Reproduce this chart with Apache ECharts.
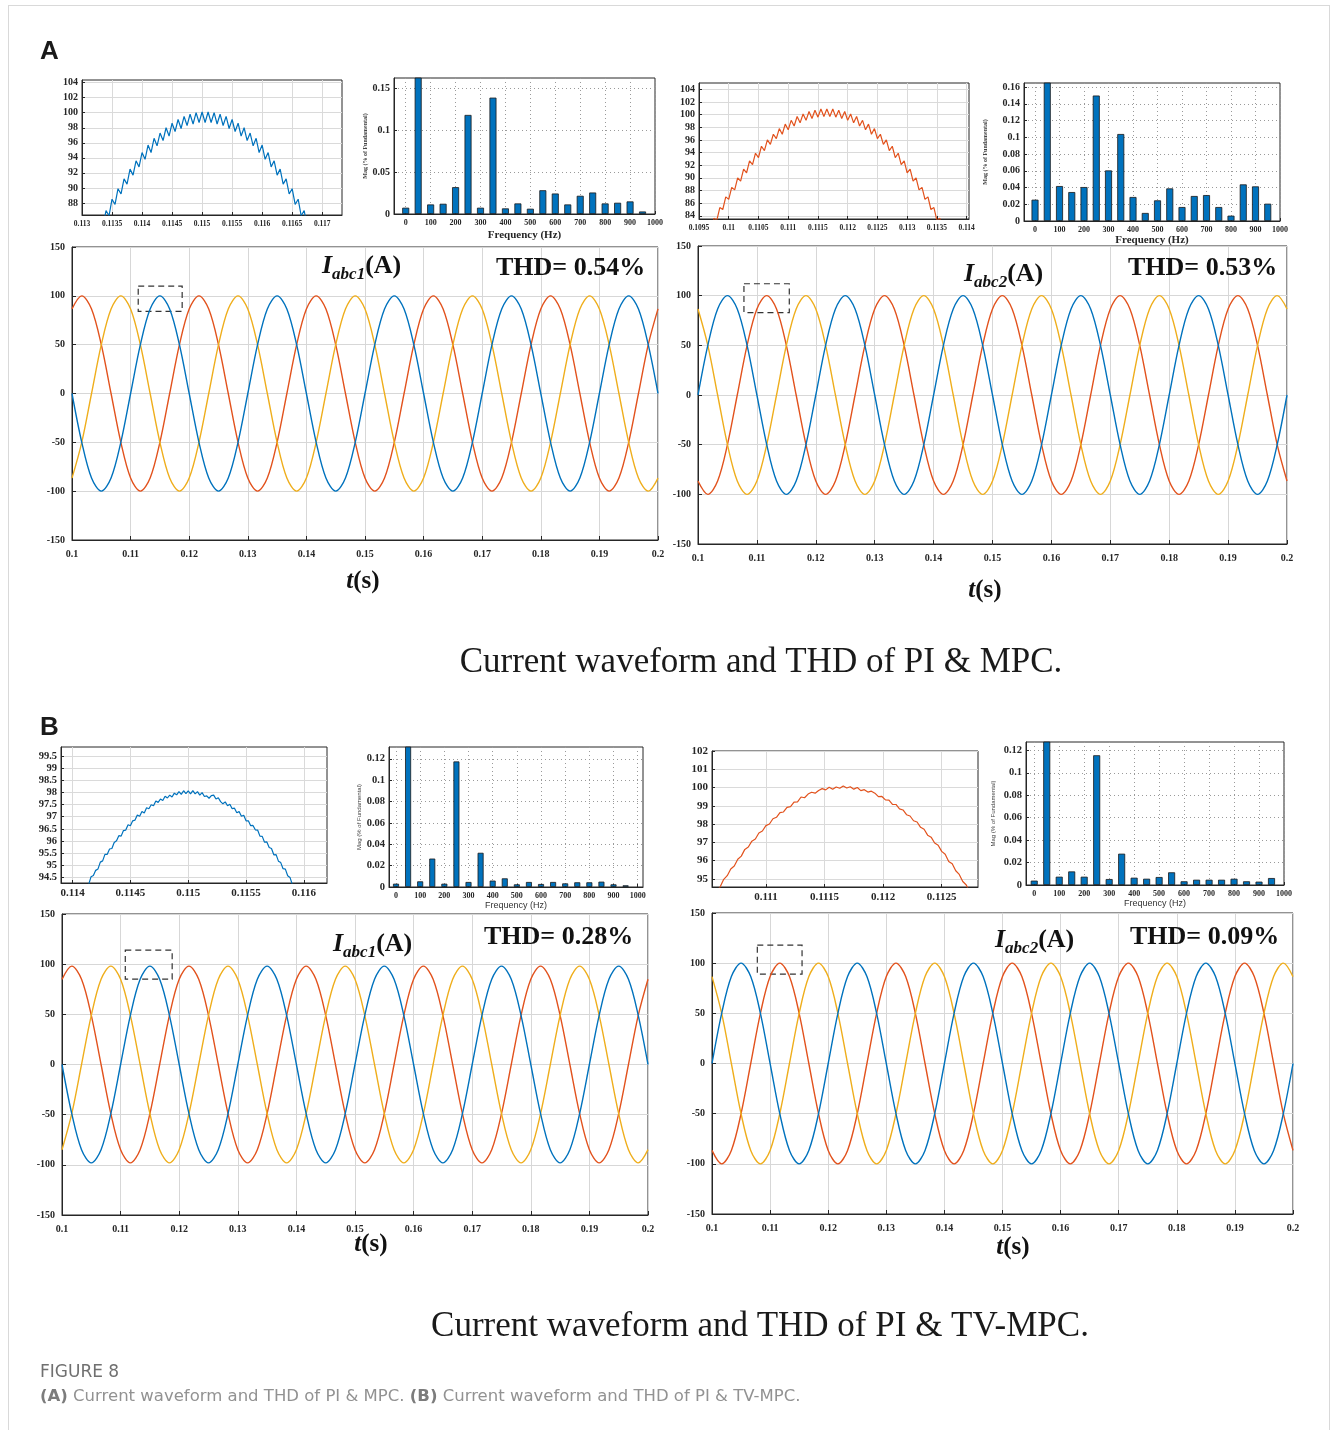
<!DOCTYPE html>
<html><head><meta charset="utf-8">
<script src="https://cdn.jsdelivr.net/npm/echarts@6/dist/echarts.min.js"></script>
<style>
html,body{margin:0;padding:0;background:#fff;}
#frame{position:absolute;left:8px;top:5px;width:1322px;height:1430px;border:1px solid #d9d9d9;border-bottom:none;box-sizing:border-box;}
#chart{position:absolute;left:0;top:0;width:1331px;height:1430px;}
</style></head><body>
<div id="frame"></div>
<div id="chart"></div>
<script>
// ---------------- DATA ----------------
// Main three-phase waveforms, read every 1/600 s from 0.1 s to 0.2 s
const mainT0 = 0.1, mainDt = 1 / 600;
const a1Blue = [0,-50,-86.6,-100,-86.6,-50,0,50,86.6,100,86.6,50, 0,-50,-86.6,-100,-86.6,-50,0,50,86.6,100,86.6,50, 0,-50,-86.6,-100,-86.6,-50,0,50,86.6,100,86.6,50, 0,-50,-86.6,-100,-86.6,-50,0,50,86.6,100,86.6,50, 0,-50,-86.6,-100,-86.6,-50,0,50,86.6,100,86.6,50, 0];
const a1Red = [86.6,100,86.6,50,0,-50,-86.6,-100,-86.6,-50,0,50, 86.6,100,86.6,50,0,-50,-86.6,-100,-86.6,-50,0,50, 86.6,100,86.6,50,0,-50,-86.6,-100,-86.6,-50,0,50, 86.6,100,86.6,50,0,-50,-86.6,-100,-86.6,-50,0,50, 86.6,100,86.6,50,0,-50,-86.6,-100,-86.6,-50,0,50, 86.6];
const a1Orange = [-86.6,-50,0,50,86.6,100,86.6,50,0,-50,-86.6,-100, -86.6,-50,0,50,86.6,100,86.6,50,0,-50,-86.6,-100, -86.6,-50,0,50,86.6,100,86.6,50,0,-50,-86.6,-100, -86.6,-50,0,50,86.6,100,86.6,50,0,-50,-86.6,-100, -86.6,-50,0,50,86.6,100,86.6,50,0,-50,-86.6,-100, -86.6];
const a2Blue = [0,50,86.6,100,86.6,50,0,-50,-86.6,-100,-86.6,-50, 0,50,86.6,100,86.6,50,0,-50,-86.6,-100,-86.6,-50, 0,50,86.6,100,86.6,50,0,-50,-86.6,-100,-86.6,-50, 0,50,86.6,100,86.6,50,0,-50,-86.6,-100,-86.6,-50, 0,50,86.6,100,86.6,50,0,-50,-86.6,-100,-86.6,-50, 0];
const a2Red = [-86.6,-100,-86.6,-50,0,50,86.6,100,86.6,50,0,-50, -86.6,-100,-86.6,-50,0,50,86.6,100,86.6,50,0,-50, -86.6,-100,-86.6,-50,0,50,86.6,100,86.6,50,0,-50, -86.6,-100,-86.6,-50,0,50,86.6,100,86.6,50,0,-50, -86.6,-100,-86.6,-50,0,50,86.6,100,86.6,50,0,-50, -86.6];
const a2Orange = [86.6,50,0,-50,-86.6,-100,-86.6,-50,0,50,86.6,100, 86.6,50,0,-50,-86.6,-100,-86.6,-50,0,50,86.6,100, 86.6,50,0,-50,-86.6,-100,-86.6,-50,0,50,86.6,100, 86.6,50,0,-50,-86.6,-100,-86.6,-50,0,50,86.6,100, 86.6,50,0,-50,-86.6,-100,-86.6,-50,0,50,86.6,100, 86.6];
const b1Blue = [0,-49,-84.9,-98,-84.9,-49,0,49,84.9,98,84.9,49, 0,-49,-84.9,-98,-84.9,-49,0,49,84.9,98,84.9,49, 0,-49,-84.9,-98,-84.9,-49,0,49,84.9,98,84.9,49, 0,-49,-84.9,-98,-84.9,-49,0,49,84.9,98,84.9,49, 0,-49,-84.9,-98,-84.9,-49,0,49,84.9,98,84.9,49, 0];
const b1Red = [84.9,98,84.9,49,0,-49,-84.9,-98,-84.9,-49,0,49, 84.9,98,84.9,49,0,-49,-84.9,-98,-84.9,-49,0,49, 84.9,98,84.9,49,0,-49,-84.9,-98,-84.9,-49,0,49, 84.9,98,84.9,49,0,-49,-84.9,-98,-84.9,-49,0,49, 84.9,98,84.9,49,0,-49,-84.9,-98,-84.9,-49,0,49, 84.9];
const b1Orange = [-84.9,-49,0,49,84.9,98,84.9,49,0,-49,-84.9,-98, -84.9,-49,0,49,84.9,98,84.9,49,0,-49,-84.9,-98, -84.9,-49,0,49,84.9,98,84.9,49,0,-49,-84.9,-98, -84.9,-49,0,49,84.9,98,84.9,49,0,-49,-84.9,-98, -84.9,-49,0,49,84.9,98,84.9,49,0,-49,-84.9,-98, -84.9];
const b2Blue = [0,50,86.6,100,86.6,50,0,-50,-86.6,-100,-86.6,-50, 0,50,86.6,100,86.6,50,0,-50,-86.6,-100,-86.6,-50, 0,50,86.6,100,86.6,50,0,-50,-86.6,-100,-86.6,-50, 0,50,86.6,100,86.6,50,0,-50,-86.6,-100,-86.6,-50, 0,50,86.6,100,86.6,50,0,-50,-86.6,-100,-86.6,-50, 0];
const b2Red = [-86.6,-100,-86.6,-50,0,50,86.6,100,86.6,50,0,-50, -86.6,-100,-86.6,-50,0,50,86.6,100,86.6,50,0,-50, -86.6,-100,-86.6,-50,0,50,86.6,100,86.6,50,0,-50, -86.6,-100,-86.6,-50,0,50,86.6,100,86.6,50,0,-50, -86.6,-100,-86.6,-50,0,50,86.6,100,86.6,50,0,-50, -86.6];
const b2Orange = [86.6,50,0,-50,-86.6,-100,-86.6,-50,0,50,86.6,100, 86.6,50,0,-50,-86.6,-100,-86.6,-50,0,50,86.6,100, 86.6,50,0,-50,-86.6,-100,-86.6,-50,0,50,86.6,100, 86.6,50,0,-50,-86.6,-100,-86.6,-50,0,50,86.6,100, 86.6,50,0,-50,-86.6,-100,-86.6,-50,0,50,86.6,100, 86.6];

// Zoomed peaks (insets)
const zA1T0 = 0.11335, zA1Dt = 0.00005;
const zA1 = [84.8,87.0,86.3,88.5,87.8,89.9,89.2,91.2,90.5,92.5,91.7,93.6,92.8,94.7,93.8,95.7,94.7,96.6,95.6,97.3,96.3,98.0,96.9,98.6,97.5,99.1,97.9,99.5,98.3,99.8,98.5,100.0,98.7,100.1,98.7,100.1,98.7,100.0,98.5,99.8,98.3,99.5,97.9,99.1,97.5,98.6,96.9,98.0,96.3,97.3,95.6,96.6,94.7,95.7,93.8,94.7,92.8,93.6,91.7,92.5,90.5,91.2,89.2,89.9,87.8,88.5,86.3,87.0,84.8];
const zA2T0 = 0.10970, zA2Dt = 0.00005;
const zA2 = [81.5,83.6,83.3,85.3,85.0,87.0,86.6,88.5,88.1,90.0,89.5,91.4,90.8,92.7,92.1,93.9,93.2,95.0,94.3,96.0,95.3,96.9,96.2,97.8,96.9,98.5,97.6,99.1,98.2,99.7,98.7,100.1,99.1,100.5,99.4,100.7,99.6,100.9,99.7,100.9,99.7,100.9,99.6,100.7,99.4,100.5,99.1,100.1,98.7,99.7,98.2,99.1,97.6,98.5,96.9,97.8,96.2,96.9,95.3,96.0,94.3,95.0,93.2,93.9,92.1,92.7,90.8,91.4,89.5,90.0,88.1,88.5,86.6,87.0,85.0,85.3,83.3,83.6,81.5];
const zB1T0 = 0.11412, zB1Dt = 0.00002;
const zB1 = [94.16,94.22,94.53,94.58,94.79,94.85,95.13,95.18,95.45,95.45,95.67,95.69,95.94,96.01,96.22,96.20,96.43,96.45,96.67,96.63,96.83,96.86,97.07,97.02,97.21,97.15,97.37,97.33,97.49,97.45,97.65,97.59,97.73,97.67,97.84,97.77,97.89,97.81,97.97,97.90,98.03,97.92,98.07,97.95,98.06,97.94,98.07,97.94,98.03,97.89,97.99,97.83,97.86,97.76,97.87,97.89,97.73,97.78,97.62,97.53,97.61,97.45,97.51,97.33,97.35,97.16,97.21,97.02,97.06,96.83,96.83,96.63,96.64,96.46,96.45,96.20,96.19,95.95,95.96,95.73,95.69,95.43,95.44,95.17,95.11,94.86,94.84,94.57,94.50,94.21,94.14];
const zB2T0 = 0.11058, zB2Dt = 0.00003;
const zB2 = [94.34,94.56,94.97,95.17,95.54,95.70,96.07,96.24,96.61,96.74,97.06,97.18,97.51,97.62,97.91,98.00,98.29,98.37,98.62,98.66,98.91,98.95,99.20,99.21,99.48,99.44,99.64,99.74,99.69,99.84,99.94,99.87,100.01,99.90,100.03,99.96,100.08,99.97,100.04,99.91,100.00,99.83,99.88,99.75,99.80,99.69,99.50,99.51,99.32,99.31,99.08,99.07,98.83,98.77,98.51,98.44,98.18,98.11,97.82,97.71,97.39,97.28,96.96,96.84,96.50,96.34,95.95,95.82,95.44,95.24,94.85,94.66,94.26];

// FFT spectra (Mag, % of fundamental); the 50 Hz bar is the fundamental (off scale)
const freqs = [0,50,100,150,200,250,300,350,400,450,500,550,600,650,700,750,800,850,900,950];
const fftA1 = [0.0075,100,0.0114,0.0122,0.032,0.118,0.0075,0.1386,0.0067,0.0126,0.0063,0.0283,0.0244,0.0114,0.0217,0.0256,0.0126,0.0134,0.015,0.003];
const fftA2 = [0.0255,100,0.0418,0.0346,0.0406,0.150,0.0605,0.104,0.0287,0.0096,0.0247,0.039,0.0167,0.0299,0.031,0.0167,0.0064,0.0438,0.0414,0.0207];
const fftB1 = [0.0031,100,0.0053,0.0266,0.0031,0.1175,0.0047,0.032,0.006,0.0081,0.0025,0.0047,0.0028,0.0047,0.0034,0.0044,0.0044,0.005,0.0025,0.0016];
const fftB2 = [0.0039,100,0.0074,0.0121,0.0074,0.1156,0.0053,0.0279,0.0065,0.0056,0.0071,0.0113,0.0033,0.0047,0.0047,0.0047,0.0056,0.0033,0.003,0.0062];

// Tick labels
const mainXTicks = [0.1,0.11,0.12,0.13,0.14,0.15,0.16,0.17,0.18,0.19,0.2];
const freqTicks = [0,100,200,300,400,500,600,700,800,900,1000];
const zA1XTicks = [0.113,0.1135,0.114,0.1145,0.115,0.1155,0.116,0.1165,0.117];
const zA1YTicks = [88,90,92,94,96,98,100,102,104];
const zA2XTicks = [0.1095,0.11,0.1105,0.111,0.1115,0.112,0.1125,0.113,0.1135,0.114];
const zA2YTicks = [84,86,88,90,92,94,96,98,100,102,104];
const zB1XTicks = [0.114,0.1145,0.115,0.1155,0.116];
const zB1YTicks = [94.5,95,95.5,96,96.5,97,97.5,98,98.5,99,99.5];
const zB2XTicks = [0.111,0.1115,0.112,0.1125];
const zB2YTicks = [95,96,97,98,99,100,101,102];
const fA1YTicks = [0,0.05,0.1,0.15];
const fA2YTicks = [0,0.02,0.04,0.06,0.08,0.1,0.12,0.14,0.16];
const fB1YTicks = [0,0.02,0.04,0.06,0.08,0.1,0.12];
const fB2YTicks = [0,0.02,0.04,0.06,0.08,0.1,0.12];

// Dashed zoom-window annotations (data units)
const boxA1 = [[0.1113, 110], [0.1188, 84]];
const boxA2 = [[0.1078, 112], [0.1155, 83]];
const boxB1 = [[0.1108, 114], [0.1188, 85]];
const boxB2 = [[0.1078, 118], [0.1155, 89]];

// ---------------- CHART ----------------
const SERIF = "'Liberation Serif','Times New Roman',serif";
const SANS = "'Liberation Sans',Arial,sans-serif";
const DARK = '#262626';
const BLUE = '#0072BD', RED = '#E2521D', ORANGE = '#EFAE1C';
const fmt = v => String(+(+v).toFixed(5));

function pairs(t0, dt, vals) { return vals.map((v, i) => [+(t0 + i * dt).toFixed(7), v]); }
function bars(vals) { return freqs.map((f, i) => [f, vals[i]]); }

const grids = [], xAxes = [], yAxes = [], series = [];
function addGrid(g) { grids.push(Object.assign({show: true, borderColor: DARK, borderWidth: 1, backgroundColor: 'rgba(0,0,0,0)'}, g)); return grids.length - 1; }
const lbl = (fs, extra) => Object.assign({fontFamily: SERIF, fontWeight: 'bold', fontSize: fs, color: DARK}, extra || {});

function mainPanel(g, d, box) {
  const gi = addGrid(g);
  xAxes.push({gridIndex: gi, type: 'value', min: 0.1, max: 0.2,
    axisLine: {onZero: false, lineStyle: {color: DARK}}, axisTick: {inside: true, length: 4, customValues: mainXTicks, lineStyle: {color: DARK}},
    axisLabel: lbl(10, {customValues: mainXTicks, formatter: fmt, margin: 9}),
    splitLine: {show: true, lineStyle: {color: '#d7d7d7', width: 1}}});
  yAxes.push({gridIndex: gi, type: 'value', min: -150, max: 150, interval: 50,
    axisLine: {show: true, onZero: false, lineStyle: {color: DARK}}, axisTick: {show: true, inside: true, length: 4, lineStyle: {color: DARK}},
    axisLabel: lbl(10, {margin: 7}),
    splitLine: {show: true, lineStyle: {color: '#d7d7d7', width: 1}}});
  const cols = [RED, ORANGE, BLUE];
  d.forEach((vals, k) => {
    const s = {type: 'line', xAxisIndex: gi, yAxisIndex: gi, data: pairs(mainT0, mainDt, vals), showSymbol: false, smooth: 0.33,
      lineStyle: {color: cols[k], width: 1.4}, itemStyle: {color: cols[k]}, silent: true, animation: false, z: 3};
    if (k === 2) {
      s.markArea = {silent: true, itemStyle: {color: 'rgba(0,0,0,0)', borderColor: '#333', borderWidth: 1.2, borderType: [6, 4]},
        data: [[{coord: box[0]}, {coord: box[1]}]]};
    }
    series.push(s);
  });
}

function zoomPanel(g, xr, xt, yr, yt, fx, fy, t0, dt, vals, color) {
  const gi = addGrid(g);
  xAxes.push({gridIndex: gi, type: 'value', min: xr[0], max: xr[1],
    axisLine: {onZero: false, lineStyle: {color: DARK}}, axisTick: {inside: true, length: 3, customValues: xt, lineStyle: {color: DARK}},
    axisLabel: lbl(fx, {customValues: xt, formatter: fmt, margin: 5}),
    splitLine: {show: true, lineStyle: {color: '#dadada'}}});
  yAxes.push({gridIndex: gi, type: 'value', min: yr[0], max: yr[1],
    axisLine: {show: true, onZero: false, lineStyle: {color: DARK}}, axisTick: {show: true, inside: true, length: 3, customValues: yt, lineStyle: {color: DARK}},
    axisLabel: lbl(fy, {customValues: yt, formatter: fmt, margin: 4}),
    splitLine: {show: true, lineStyle: {color: '#dadada'}}});
  series.push({type: 'line', xAxisIndex: gi, yAxisIndex: gi, data: pairs(t0, dt, vals), showSymbol: false,
    lineStyle: {color: color, width: 1.2}, silent: true, animation: false, clip: true});
}

function barPanel(g, xr, yr, yt, vals, o) {
  const gi = addGrid(g);
  xAxes.push({gridIndex: gi, type: 'value', min: xr[0], max: xr[1],
    name: 'Frequency (Hz)', nameLocation: 'middle', nameGap: o.xGap,
    nameTextStyle: o.sansName ? {fontFamily: SANS, fontSize: 9, color: '#333'} : {fontFamily: SERIF, fontWeight: 'bold', fontSize: 11, color: DARK},
    axisLine: {onZero: false, lineStyle: {color: DARK}}, axisTick: {inside: true, length: 3, customValues: freqTicks, lineStyle: {color: DARK}},
    axisLabel: lbl(8, {customValues: freqTicks, formatter: v => String(Math.round(v)), margin: 5}),
    splitLine: {show: true, lineStyle: {color: '#9a9a9a', type: [1, 3], width: 1}}});
  yAxes.push({gridIndex: gi, type: 'value', min: yr[0], max: yr[1],
    name: 'Mag (% of Fundamental)', nameLocation: 'middle', nameGap: o.yGap,
    nameTextStyle: o.sansName ? {fontFamily: SANS, fontSize: 6, color: '#444'} : {fontFamily: SERIF, fontWeight: 'bold', fontSize: 6, color: '#444'},
    axisLine: {show: true, onZero: false, lineStyle: {color: DARK}}, axisTick: {show: true, inside: true, length: 3, customValues: yt, lineStyle: {color: DARK}},
    axisLabel: lbl(o.yFs, {customValues: yt, formatter: fmt, margin: 4}),
    splitLine: {show: true, lineStyle: {color: '#9a9a9a', type: [1, 3], width: 1}}});
  series.push({type: 'bar', xAxisIndex: gi, yAxisIndex: gi, data: bars(vals), barWidth: o.bw, clip: true,
    itemStyle: {color: BLUE, borderColor: '#1b1b1b', borderWidth: 0.8}, silent: true, animation: false});
}

// Panel A (PI & MPC)
zoomPanel({left: 82, top: 80, width: 260, height: 135}, [0.113, 0.11733], zA1XTicks, [86.4, 104.35], zA1YTicks, 7.5, 10, zA1T0, zA1Dt, zA1, BLUE);
barPanel({left: 394, top: 78, width: 261, height: 136}, [-47, 1000], [0, 0.162], fA1YTicks, fftA1, {xGap: 16, yGap: 22, bw: 7, yFs: 10});
zoomPanel({left: 699, top: 83, width: 270, height: 136}, [0.1095, 0.11404], zA2XTicks, [83.5, 105], zA2YTicks, 7.5, 10, zA2T0, zA2Dt, zA2, RED);
barPanel({left: 1024, top: 83, width: 256, height: 138}, [-45, 1000], [0, 0.165], fA2YTicks, fftA2, {xGap: 11, yGap: 36, bw: 7, yFs: 10});
mainPanel({left: 72, top: 247, width: 586, height: 293}, [a1Red, a1Orange, a1Blue], boxA1);
mainPanel({left: 698, top: 246, width: 589, height: 298}, [a2Red, a2Orange, a2Blue], boxA2);
// Panel B (PI & TV-MPC)
zoomPanel({left: 61, top: 747, width: 266, height: 136}, [0.1139, 0.1162], zB1XTicks, [94.27, 99.87], zB1YTicks, 11, 10.5, zB1T0, zB1Dt, zB1, BLUE);
barPanel({left: 389, top: 747, width: 254, height: 140}, [-29, 1022], [0, 0.131], fB1YTicks, fftB1, {xGap: 13, yGap: 26, bw: 6, yFs: 10.5, sansName: true});
zoomPanel({left: 712, top: 751, width: 266, height: 136}, [0.11054, 0.11281], zB2XTicks, [94.55, 102], zB2YTicks, 11, 11, zB2T0, zB2Dt, zB2, RED);
barPanel({left: 1026, top: 742, width: 258, height: 143}, [-33, 1000], [0, 0.1274], fB2YTicks, fftB2, {xGap: 13, yGap: 30, bw: 7, yFs: 10.5, sansName: true});
mainPanel({left: 62, top: 914, width: 586, height: 301}, [b1Red, b1Orange, b1Blue], boxB1);
mainPanel({left: 712, top: 913, width: 581, height: 301}, [b2Red, b2Orange, b2Blue], boxB2);

// ---------------- TEXT ----------------
function iLabel(x, y, sub) {
  return {type: 'text', x: x, y: y, z: 10, style: {
    text: '{i|I}{s|' + sub + '}{p|(A)}', fill: '#111', verticalAlign: 'middle',
    rich: {
      i: {fontFamily: SERIF, fontSize: 26, fontWeight: 'bold', fontStyle: 'italic', lineHeight: 34, verticalAlign: 'middle', fill: '#111'},
      s: {fontFamily: SERIF, fontSize: 17, fontWeight: 'bold', fontStyle: 'italic', lineHeight: 17, verticalAlign: 'bottom', fill: '#111'},
      p: {fontFamily: SERIF, fontSize: 26, fontWeight: 'bold', lineHeight: 34, verticalAlign: 'middle', fill: '#111'}
    }}};
}
function tLabel(x, y) {
  return {type: 'text', x: x, y: y, z: 10, style: {
    text: '{i|t}{p|(s)}', fill: '#111', align: 'center', verticalAlign: 'middle',
    rich: {
      i: {fontFamily: SERIF, fontSize: 25, fontWeight: 'bold', fontStyle: 'italic', fill: '#111'},
      p: {fontFamily: SERIF, fontSize: 25, fontWeight: 'bold', fill: '#111'}
    }}};
}
function plain(x, y, text, font, fill, align) {
  return {type: 'text', x: x, y: y, z: 10, style: {text: text, font: font, fill: fill || '#111', align: align || 'left', verticalAlign: 'middle'}};
}
const thdFont = "bold 26px 'Liberation Serif'";
const titleFont = "35px 'Liberation Serif'";
const graphic = [
  plain(40, 52, 'A', "bold 26px 'Liberation Sans'", '#1a1a1a'),
  plain(40, 728, 'B', "bold 26px 'Liberation Sans'", '#1a1a1a'),
  iLabel(322, 266, 'abc1'),
  plain(496, 268, 'THD= 0.54%', thdFont),
  tLabel(363, 582),
  iLabel(964, 274, 'abc2'),
  plain(1128, 268, 'THD= 0.53%', thdFont),
  tLabel(985, 591),
  iLabel(333, 944, 'abc1'),
  plain(484, 937, 'THD= 0.28%', thdFont),
  tLabel(371, 1245),
  iLabel(995, 940, 'abc2'),
  plain(1130, 937, 'THD= 0.09%', thdFont),
  tLabel(1013, 1248),
  plain(761, 663, 'Current waveform and THD of PI & MPC.', titleFont, '#1a1a1a', 'center'),
  plain(760, 1327, 'Current waveform and THD of PI & TV-MPC.', titleFont, '#1a1a1a', 'center'),
  plain(40, 1373, 'FIGURE 8', "17px 'DejaVu Sans'", '#707070'),
  {type: 'text', x: 40, y: 1397, z: 10, style: {
    text: '{b|(A)} Current waveform and THD of PI & MPC. {b|(B)} Current waveform and THD of PI & TV-MPC.',
    font: "16.5px 'DejaVu Sans'", fill: '#929292', verticalAlign: 'middle',
    rich: {b: {fontFamily: 'DejaVu Sans', fontWeight: 'bold', fontSize: 16.5, fill: '#7c7c7c'}}}}
];

const chart = echarts.init(document.getElementById('chart'), null, {renderer: 'canvas'});
chart.setOption({
  animation: false,
  backgroundColor: 'rgba(0,0,0,0)',
  grid: grids, xAxis: xAxes, yAxis: yAxes, series: series, graphic: graphic
});
</script></body></html>
